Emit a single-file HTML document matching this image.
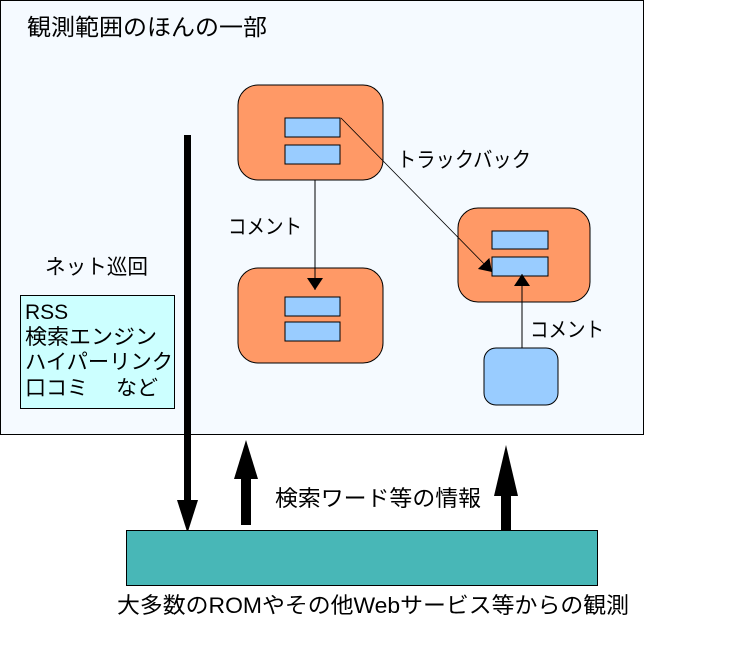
<!DOCTYPE html>
<html><head><meta charset="utf-8"><style>
html,body{margin:0;padding:0;background:#fff;}
svg text{font-family:"Liberation Sans","Noto Sans CJK JP",sans-serif;fill:#000;}
</style></head><body>
<svg width="749" height="651" viewBox="0 0 749 651" xmlns="http://www.w3.org/2000/svg">
<defs>
<marker id="ah" markerWidth="12" markerHeight="16" refX="12" refY="8" orient="auto" markerUnits="userSpaceOnUse">
<path d="M0,0 L12,8 L0,16 z" fill="#000"/></marker>
</defs>
<rect x="0.5" y="0.5" width="643" height="434" fill="#f5faff" stroke="#000"/>
<text x="27" y="35" font-size="23" textLength="240" lengthAdjust="spacingAndGlyphs">観測範囲のほんの一部</text>

<rect x="238" y="85" width="145" height="95" rx="20" fill="#ff9966" stroke="#000"/>
<rect x="285" y="118" width="55" height="19" fill="#99ccff" stroke="#000"/>
<rect x="285" y="145" width="55" height="19" fill="#99ccff" stroke="#000"/>
<rect x="238" y="268" width="145" height="95" rx="20" fill="#ff9966" stroke="#000"/>
<rect x="285" y="297" width="55" height="19" fill="#99ccff" stroke="#000"/>
<rect x="285" y="322" width="55" height="19" fill="#99ccff" stroke="#000"/>
<rect x="458" y="208" width="132" height="94" rx="20" fill="#ff9966" stroke="#000"/>
<rect x="492" y="231" width="56" height="18" fill="#99ccff" stroke="#000"/>
<rect x="492" y="257" width="56" height="19" fill="#99ccff" stroke="#000"/>
<rect x="484" y="348" width="74" height="57" rx="12" fill="#99ccff" stroke="#000"/>

<line x1="315" y1="180" x2="315" y2="290" stroke="#000" marker-end="url(#ah)"/>
<line x1="341" y1="118" x2="492" y2="272" stroke="#000" stroke-width="0.8" marker-end="url(#ah)"/>
<line x1="522" y1="348" x2="522" y2="274" stroke="#000" marker-end="url(#ah)"/>

<text x="397" y="167" font-size="21" textLength="134" lengthAdjust="spacingAndGlyphs">トラックバック</text>
<text x="228" y="234" font-size="21" textLength="74" lengthAdjust="spacingAndGlyphs">コメント</text>
<text x="530" y="337" font-size="21" textLength="74" lengthAdjust="spacingAndGlyphs">コメント</text>
<text x="45" y="274" font-size="21" textLength="103" lengthAdjust="spacingAndGlyphs">ネット巡回</text>

<rect x="20.5" y="295.5" width="154" height="113" fill="#ccffff" stroke="#000"/>
<text x="25" y="319" font-size="21">RSS</text>
<text x="25" y="344" font-size="21" textLength="132" lengthAdjust="spacingAndGlyphs">検索エンジン</text>
<text x="25" y="369" font-size="21" textLength="148" lengthAdjust="spacingAndGlyphs">ハイパーリンク</text>
<text x="25" y="395" font-size="21" textLength="63" lengthAdjust="spacingAndGlyphs">口コミ</text>
<text x="116" y="395" font-size="21" textLength="42" lengthAdjust="spacingAndGlyphs">など</text>

<rect x="184" y="135" width="7" height="370" fill="#000"/>
<path d="M177,500 L198,500 L187.5,533 z" fill="#000"/>
<rect x="241" y="478" width="10" height="47" fill="#000"/>
<path d="M234,479 L258,479 L246,440 z" fill="#000"/>
<rect x="501" y="495" width="10" height="35" fill="#000"/>
<path d="M494,496 L518,496 L506,445 z" fill="#000"/>

<text x="275" y="506" font-size="22" textLength="206" lengthAdjust="spacingAndGlyphs">検索ワード等の情報</text>

<rect x="126.5" y="530.5" width="471" height="55" fill="#48b7b7" stroke="#000"/>
<text x="117" y="613" font-size="22" textLength="512" lengthAdjust="spacingAndGlyphs">大多数のROMやその他Webサービス等からの観測</text>
</svg>
</body></html>
